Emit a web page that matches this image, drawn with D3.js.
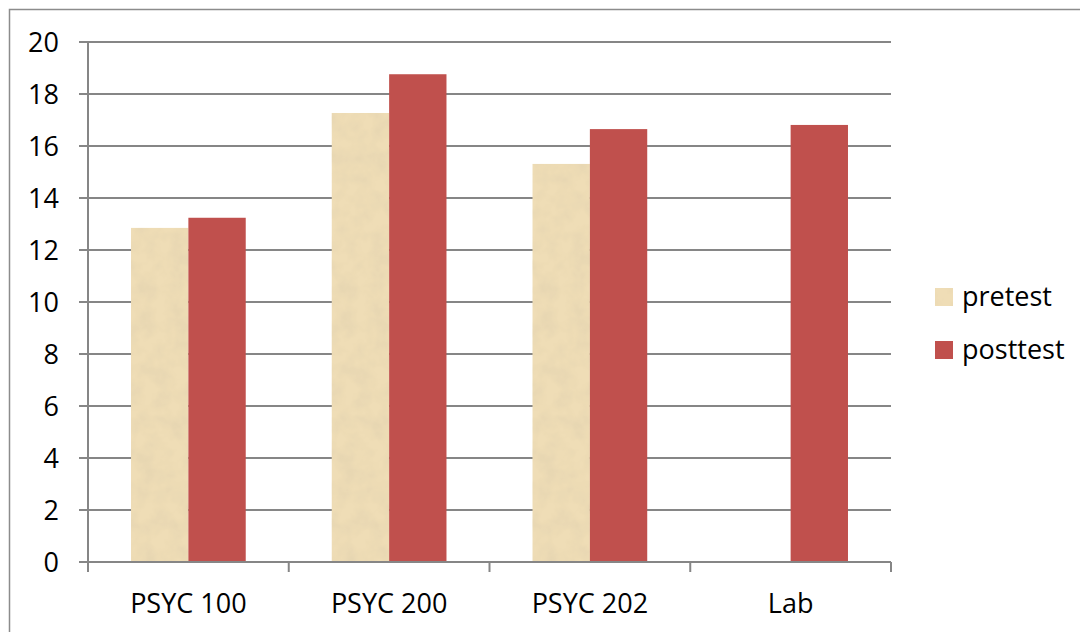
<!DOCTYPE html>
<html>
<head>
<meta charset="utf-8">
<script src="https://cdn.jsdelivr.net/npm/d3@7"></script>
<style>
  html, body { margin: 0; padding: 0; background: #fff; }
  svg { display: block; }
  text { font-family: "Open Sans", "Noto Sans", sans-serif; fill: #000; }
</style>
</head>
<body>
<svg id="chart" width="1080" height="632"></svg>
<script>
const categories = ["PSYC 100", "PSYC 200", "PSYC 202", "Lab"];
const seriesNames = ["pretest", "posttest"];
const pretest = [12.85, 17.27, 15.31, 0];
const posttest = [13.24, 18.76, 16.65, 16.81];
const yTicks = [0, 2, 4, 6, 8, 10, 12, 14, 16, 18, 20];
const colors = { pretest: "#EFDDB6", posttest: "#C0504D" };

(function () {
const svg = d3.select("#chart");
const defs = svg.append("defs");
const filt = defs.append("filter").attr("id", "paper")
  .attr("x", 0).attr("y", 0).attr("width", 1).attr("height", 1);
filt.append("feTurbulence").attr("type", "fractalNoise")
  .attr("baseFrequency", 0.06).attr("numOctaves", 3).attr("seed", 4).attr("result", "noise");
filt.append("feColorMatrix").attr("in", "noise").attr("type", "matrix")
  .attr("values", "0 0 0 0 0.72  0 0 0 0 0.62  0 0 0 0 0.42  0 0 0 0.9 -0.32")
  .attr("result", "tint");
filt.append("feComposite").attr("in", "tint").attr("in2", "SourceGraphic").attr("operator", "in").attr("result", "spots");
filt.append("feMerge").call(m => {
  m.append("feMergeNode").attr("in", "SourceGraphic");
  m.append("feMergeNode").attr("in", "spots");
});

// outer border
svg.append("path").attr("d", "M9.5,640 V9.5 H1090")
  .attr("fill", "none").attr("stroke", "#8c8c8c").attr("stroke-width", 1.5);

const mLeft = 88, mRight = 891, mTop = 42, mBottom = 562;
const x = d3.scaleBand().domain(categories).range([mLeft, mRight]).paddingInner(0).paddingOuter(0);
const x1 = d3.scaleBand().domain(seriesNames).range([0, x.bandwidth()]).paddingInner(0).paddingOuter(0.75);
const y = d3.scaleLinear().domain([0, 20]).range([mBottom, mTop]);

// gridlines
svg.append("g").selectAll("line").data(yTicks.filter(d => d > 0)).join("line")
  .attr("x1", mLeft - 9).attr("x2", mRight)
  .attr("y1", d => y(d)).attr("y2", d => y(d))
  .attr("stroke", "#868686").attr("stroke-width", 2);

// bars
const data = categories.map((c, i) => ({ c, vals: [
  { s: "pretest", v: pretest[i] }, { s: "posttest", v: posttest[i] }] }));
const g = svg.append("g").selectAll("g").data(data).join("g")
  .attr("transform", d => `translate(${x(d.c)},0)`);
g.selectAll("rect").data(d => d.vals.filter(e => e.v > 0)).join("rect")
  .attr("x", d => x1(d.s)).attr("width", x1.bandwidth())
  .attr("y", d => y(d.v)).attr("height", d => y(0) - y(d.v))
  .attr("fill", d => colors[d.s])
  .attr("filter", d => d.s === "pretest" ? "url(#paper)" : null);

// y axis line
svg.append("line").attr("x1", mLeft).attr("x2", mLeft).attr("y1", mTop).attr("y2", mBottom)
  .attr("stroke", "#868686").attr("stroke-width", 2);
// x axis line and ticks
svg.append("line").attr("x1", mLeft - 9).attr("x2", mRight).attr("y1", mBottom).attr("y2", mBottom)
  .attr("stroke", "#868686").attr("stroke-width", 2);
const bounds = categories.map(c => x(c)).concat([mRight]);
svg.append("g").selectAll("line").data(bounds).join("line")
  .attr("x1", d => d).attr("x2", d => d).attr("y1", mBottom).attr("y2", mBottom + 10)
  .attr("stroke", "#868686").attr("stroke-width", 2);

// y tick labels
svg.append("g").selectAll("text").data(yTicks).join("text")
  .attr("x", 59).attr("y", d => y(d)).attr("dy", "0.36em")
  .attr("text-anchor", "end").attr("font-size", 27).text(d => d);

// x labels
svg.append("g").selectAll("text").data(categories).join("text")
  .attr("x", d => x(d) + x.bandwidth() / 2).attr("y", 613)
  .attr("text-anchor", "middle").attr("font-size", 27).text(d => d);

// legend
const leg = svg.append("g").selectAll("g").data(seriesNames).join("g")
  .attr("transform", (d, i) => `translate(935,${288 + i * 53})`);
leg.append("rect").attr("width", 18).attr("height", 18)
  .attr("fill", d => colors[d]).attr("filter", d => d === "pretest" ? "url(#paper)" : null);
leg.append("text").attr("x", 27).attr("y", 18).attr("font-size", 27).text(d => d);
})();
</script>
</body>
</html>
